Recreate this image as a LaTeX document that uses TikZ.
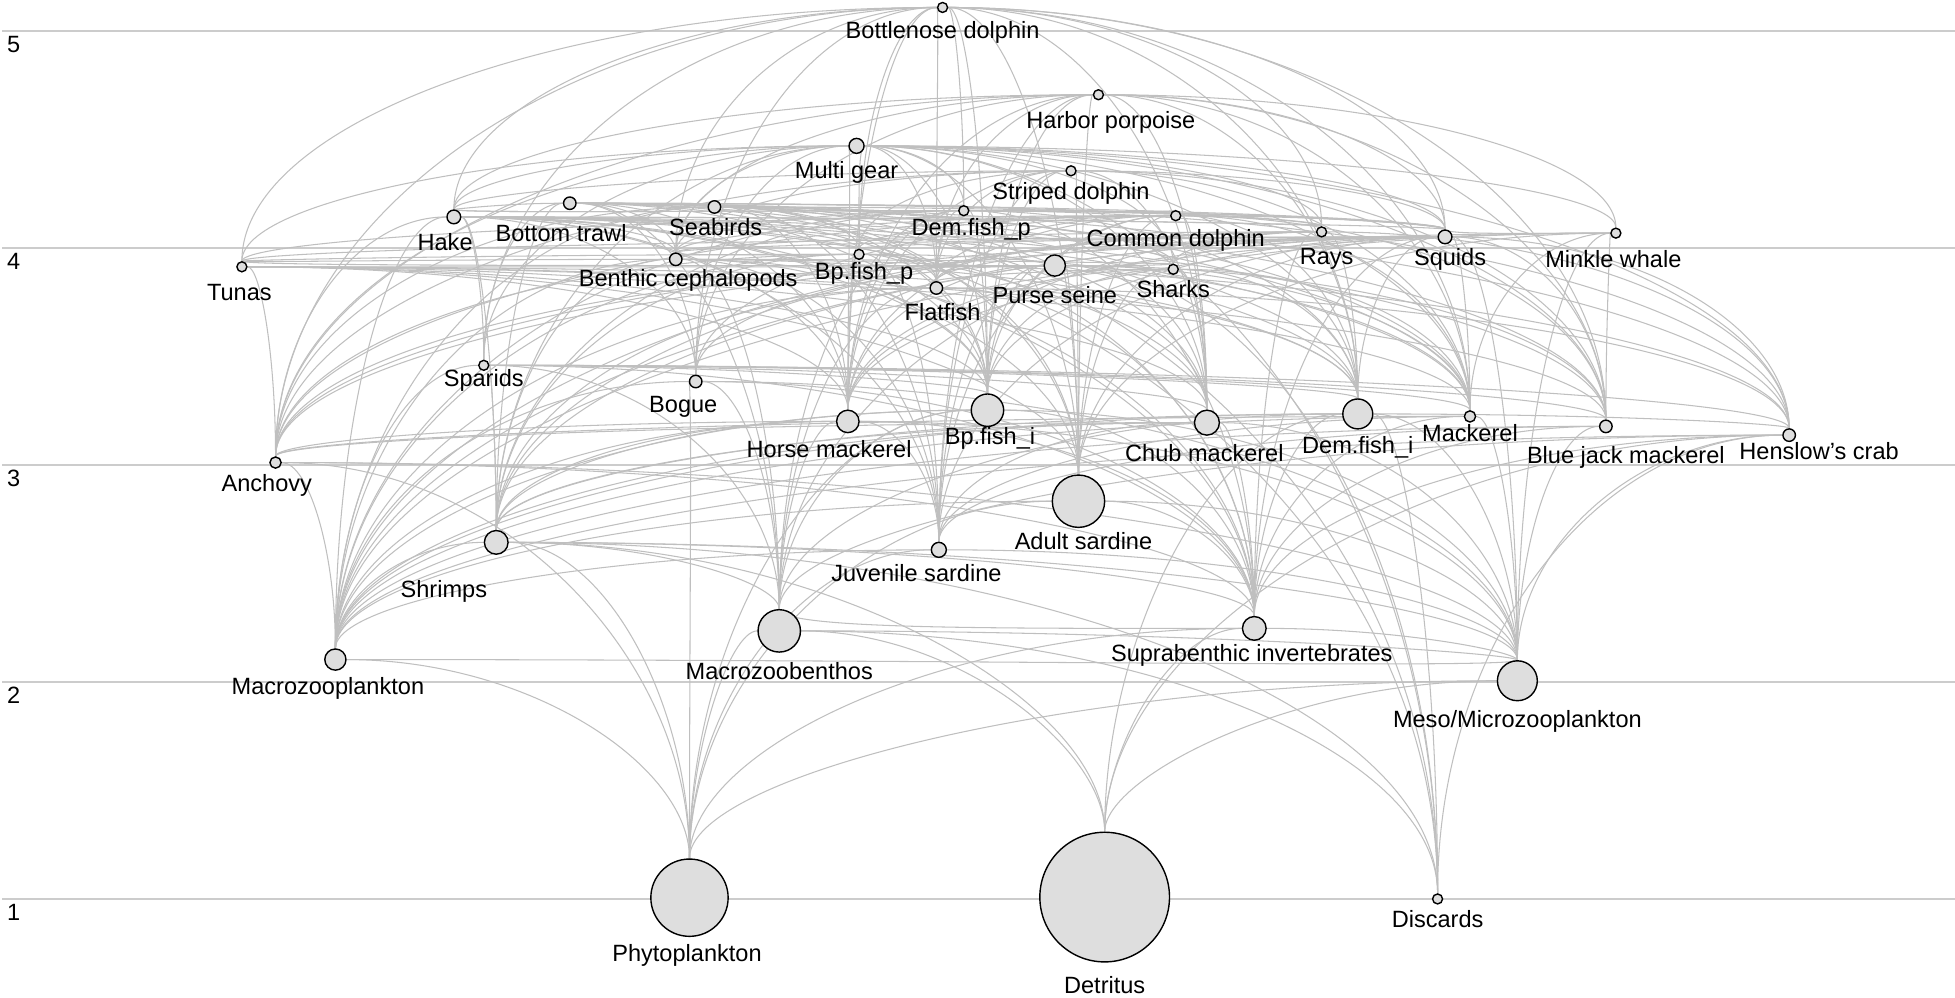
\documentclass[tikz,border=0pt]{standalone}
\usepackage{fontspec}
\setmainfont{Liberation Sans}
\usetikzlibrary{calc}
\pgfdeclarelayer{bg}
\pgfsetlayers{bg,main}
\tikzset{
  grp/.style={circle, draw=black, line width=0.4pt, fill=black!13, inner sep=0pt, minimum size={2*#1*0.012468cm}},
  lab/.style={inner sep=0pt, font=\fontsize{6.7}{8}\selectfont},
  web/.style={draw=black!25, line width=0.3pt},
  level/.style={draw=black!20, line width=0.45pt}
}
\newdimen\lowy
\newdimen\highy
\newcommand{\foodarc}[2]{%
  \draw[web] (#1) .. controls ($(#1)!0.552!(#1|-#2)$) and ($(#2)!0.552!(#1|-#2)$) .. (#2);}
\newcommand{\foodlink}[2]{%
  \pgfextracty{\lowy}{\pgfpointanchor{#1}{center}}%
  \pgfextracty{\highy}{\pgfpointanchor{#2}{center}}%
  \ifdim\lowy<\highy\relax\foodarc{#1}{#2}\else\foodarc{#2}{#1}\fi}

\begin{document}
\begin{tikzpicture}[x=0.012468cm, y=-0.012468cm]
        \useasboundingbox (0,0) rectangle (1568,800);
        \node (bnd) [grp=4] at (756,6) {};
        \node (hpp) [grp=4] at (881,76) {};
        \node (mgr) [grp=6] at (687,117) {};
        \node (std) [grp=4] at (859,137) {};
        \node (sbd) [grp=5] at (573,166) {};
        \node (dfp) [grp=4] at (773,169) {};
        \node (cmd) [grp=4] at (943,173) {};
        \node (btw) [grp=5] at (457,163) {};
        \node (hak) [grp=5.5] at (364,174) {};
        \node (ray) [grp=4] at (1060,186) {};
        \node (sqd) [grp=5.5] at (1159,190) {};
        \node (mkw) [grp=4] at (1296,187) {};
        \node (bcp) [grp=5] at (542,208) {};
        \node (bfp) [grp=4] at (689,204) {};
        \node (tun) [grp=4] at (194,214) {};
        \node (psn) [grp=8.5] at (846,213) {};
        \node (shk) [grp=4] at (941,216) {};
        \node (flf) [grp=5] at (751,231) {};
        \node (spa) [grp=4] at (388,293) {};
        \node (bog) [grp=5] at (558,306) {};
        \node (hmk) [grp=9] at (680,338) {};
        \node (bfi) [grp=13] at (792,329) {};
        \node (cmk) [grp=10] at (968,339) {};
        \node (dfi) [grp=12] at (1089,332) {};
        \node (mck) [grp=4.5] at (1179,334) {};
        \node (bjm) [grp=5] at (1288,342) {};
        \node (hcr) [grp=5] at (1435,349) {};
        \node (anc) [grp=4.5] at (221,371) {};
        \node (asd) [grp=21] at (865,402) {};
        \node (shr) [grp=9.5] at (398,435) {};
        \node (jsd) [grp=6] at (753,441) {};
        \node (mzb) [grp=17] at (625,506) {};
        \node (sbi) [grp=9.5] at (1006,504) {};
        \node (mzp) [grp=8.5] at (269,529) {};
        \node (mmz) [grp=16] at (1217,546) {};
        \node (phy) [grp=31] at (553,720) {};
        \node (det) [grp=52] at (886,719.5) {};
        \node (dis) [grp=4] at (1153,721) {};

        \node (bnd-t) [lab] at (756,26) {Bottlenose dolphin};
        \node (hpp-t) [lab] at (891,98) {Harbor porpoise};
        \node (mgr-t) [lab] at (679,138) {Multi gear};
        \node (std-t) [lab] at (859,155) {Striped dolphin};
        \node (sbd-t) [lab] at (574,182) {Seabirds};
        \node (dfp-t) [lab] at (779,184) {Dem.fish\_p};
        \node (cmd-t) [lab] at (943,193) {Common dolphin};
        \node (btw-t) [lab] at (450,187) {Bottom trawl};
        \node (hak-t) [lab] at (357,194) {Hake};
        \node (ray-t) [lab] at (1064,208) {Rays};
        \node (sqd-t) [lab] at (1163,208) {Squids};
        \node (mkw-t) [lab] at (1294,208) {Minkle whale};
        \node (bcp-t) [lab] at (552,225) {Benthic cephalopods};
        \node (bfp-t) [lab] at (693,219) {Bp.fish\_p};
        \node (tun-t) [lab] at (192,235) {Tunas};
        \node (psn-t) [lab] at (846,237) {Purse seine};
        \node (shk-t) [lab] at (941,232) {Sharks};
        \node (flf-t) [lab] at (756,250) {Flatfish};
        \node (spa-t) [lab] at (388,305) {Sparids};
        \node (bog-t) [lab] at (548,326) {Bogue};
        \node (hmk-t) [lab] at (665,360) {Horse mackerel};
        \node (bfi-t) [lab] at (794,352) {Bp.fish\_i};
        \node (cmk-t) [lab] at (966,363) {Chub mackerel};
        \node (dfi-t) [lab] at (1089,359) {Dem.fish\_i};
        \node (mck-t) [lab] at (1179,347) {Mackerel};
        \node (bjm-t) [lab] at (1304,367) {Blue jack mackerel};
        \node (hcr-t) [lab] at (1459,362) {Henslow's crab};
        \node (anc-t) [lab] at (214,389) {Anchovy};
        \node (asd-t) [lab] at (869,434) {Adult sardine};
        \node (shr-t) [lab] at (356,474) {Shrimps};
        \node (jsd-t) [lab] at (735,460) {Juvenile sardine};
        \node (mzb-t) [lab] at (625,538) {Macrozoobenthos};
        \node (sbi-t) [lab] at (1004,526) {Suprabenthic invertebrates};
        \node (mzp-t) [lab] at (263,552) {Macrozooplankton};
        \node (mmz-t) [lab] at (1217,579) {Meso/Microzooplankton};
        \node (phy-t) [lab] at (551,766) {Phytoplankton};
        \node (det-t) [lab] at (886,790) {Detritus};
        \node (dis-t) [lab] at (1153,737) {Discards};

        \node (tl5) [lab] at (11,36) {5};
        \node (tl4) [lab] at (11,210) {4};
        \node (tl3) [lab] at (11,384) {3};
        \node (tl2) [lab] at (11,558) {2};
        \node (tl1) [lab] at (11,732) {1};

        \begin{pgfonlayer}{bg}
                \draw[level] (2,25) -- (1568,25);
                \draw[level] (2,199) -- (1568,199);
                \draw[level] (2,373) -- (1568,373);
                \draw[level] (2,547) -- (1568,547);
                \draw[level] (2,721) -- (1568,721);

                \foodlink{hak}{bnd} \foodlink{bcp}{bnd} \foodlink{sqd}{bnd} \foodlink{hmk}{bnd} \foodlink{bfi}{bnd} \foodlink{cmk}{bnd}
                \foodlink{mck}{bnd} \foodlink{bjm}{bnd} \foodlink{asd}{bnd} \foodlink{dfi}{bnd} \foodlink{flf}{bnd} \foodlink{spa}{bnd}
                \foodlink{bog}{bnd} \foodlink{dfp}{bnd} \foodlink{bfp}{bnd} \foodlink{ray}{bnd} \foodlink{anc}{bnd} \foodlink{tun}{bnd}

                \foodlink{hak}{hpp} \foodlink{sqd}{hpp} \foodlink{hmk}{hpp} \foodlink{bfi}{hpp} \foodlink{cmk}{hpp} \foodlink{mck}{hpp}
                \foodlink{asd}{hpp} \foodlink{dfi}{hpp} \foodlink{flf}{hpp} \foodlink{bog}{hpp} \foodlink{anc}{hpp} \foodlink{bcp}{hpp}
                \foodlink{jsd}{hpp} \foodlink{bjm}{hpp} \foodlink{mkw}{hpp}

                \foodlink{hak}{mgr} \foodlink{tun}{mgr} \foodlink{bcp}{mgr} \foodlink{sqd}{mgr} \foodlink{spa}{mgr} \foodlink{bog}{mgr}
                \foodlink{hmk}{mgr} \foodlink{bfi}{mgr} \foodlink{cmk}{mgr} \foodlink{mck}{mgr} \foodlink{bjm}{mgr} \foodlink{dfi}{mgr}
                \foodlink{flf}{mgr} \foodlink{ray}{mgr} \foodlink{shk}{mgr} \foodlink{dfp}{mgr} \foodlink{bfp}{mgr} \foodlink{hcr}{mgr}
                \foodlink{anc}{mgr} \foodlink{asd}{mgr} \foodlink{shr}{mgr} \foodlink{mkw}{mgr}

                \foodlink{sqd}{std} \foodlink{bfi}{std} \foodlink{hmk}{std} \foodlink{mck}{std} \foodlink{bjm}{std} \foodlink{asd}{std}
                \foodlink{anc}{std} \foodlink{jsd}{std} \foodlink{cmk}{std} \foodlink{hak}{std} \foodlink{bcp}{std} \foodlink{bfp}{std}
                \foodlink{flf}{std}

                \foodlink{asd}{cmd} \foodlink{anc}{cmd} \foodlink{hmk}{cmd} \foodlink{bfi}{cmd} \foodlink{sqd}{cmd} \foodlink{cmk}{cmd}
                \foodlink{mck}{cmd} \foodlink{bjm}{cmd} \foodlink{jsd}{cmd} \foodlink{bog}{cmd} \foodlink{dfi}{cmd} \foodlink{bfp}{cmd}
                \foodlink{dfp}{cmd} \foodlink{bcp}{cmd} \foodlink{flf}{cmd} \foodlink{tun}{cmd}

                \foodlink{asd}{sbd} \foodlink{anc}{sbd} \foodlink{jsd}{sbd} \foodlink{hmk}{sbd} \foodlink{bfi}{sbd} \foodlink{sqd}{sbd}
                \foodlink{mck}{sbd} \foodlink{cmk}{sbd} \foodlink{mzp}{sbd} \foodlink{bfp}{sbd}

                \foodlink{hak}{dfp} \foodlink{dfi}{dfp} \foodlink{bcp}{dfp} \foodlink{shr}{dfp} \foodlink{mzb}{dfp} \foodlink{sbi}{dfp}
                \foodlink{flf}{dfp} \foodlink{sqd}{dfp} \foodlink{hmk}{dfp} \foodlink{bfi}{dfp} \foodlink{hcr}{dfp} \foodlink{mzp}{dfp}
                \foodlink{ray}{dfp}

                \foodlink{hak}{btw} \foodlink{bcp}{btw} \foodlink{sqd}{btw} \foodlink{ray}{btw} \foodlink{flf}{btw} \foodlink{dfp}{btw}
                \foodlink{dfi}{btw} \foodlink{hmk}{btw} \foodlink{spa}{btw} \foodlink{bog}{btw} \foodlink{shr}{btw} \foodlink{mck}{btw}
                \foodlink{bjm}{btw} \foodlink{hcr}{btw} \foodlink{mzb}{btw} \foodlink{shk}{btw} \foodlink{bfi}{btw} \foodlink{cmk}{btw}

                \foodlink{hmk}{hak} \foodlink{bfi}{hak} \foodlink{bcp}{hak} \foodlink{sqd}{hak} \foodlink{asd}{hak} \foodlink{jsd}{hak}
                \foodlink{anc}{hak} \foodlink{shr}{hak} \foodlink{mzp}{hak} \foodlink{sbi}{hak} \foodlink{bog}{hak} \foodlink{dfi}{hak}
                \foodlink{cmk}{hak} \foodlink{mck}{hak} \foodlink{bjm}{hak} \foodlink{flf}{hak} \foodlink{spa}{hak} \foodlink{ray}{hak}
                \foodlink{dfp}{hak} \foodlink{bfp}{hak}

                \foodlink{shr}{ray} \foodlink{mzb}{ray} \foodlink{sbi}{ray} \foodlink{dfi}{ray} \foodlink{flf}{ray} \foodlink{bcp}{ray}
                \foodlink{hcr}{ray} \foodlink{mzp}{ray}

                \foodlink{asd}{sqd} \foodlink{anc}{sqd} \foodlink{jsd}{sqd} \foodlink{shr}{sqd} \foodlink{mzp}{sqd} \foodlink{sbi}{sqd}
                \foodlink{bfi}{sqd} \foodlink{hmk}{sqd} \foodlink{mck}{sqd} \foodlink{bjm}{sqd} \foodlink{dfi}{sqd} \foodlink{hcr}{sqd}
                \foodlink{mmz}{sqd} \foodlink{bcp}{sqd} \foodlink{bfp}{sqd} \foodlink{flf}{sqd} \foodlink{dfp}{sqd}

                \foodlink{mck}{mkw} \foodlink{asd}{mkw} \foodlink{anc}{mkw} \foodlink{mzp}{mkw} \foodlink{bjm}{mkw} \foodlink{hmk}{mkw}
                \foodlink{sqd}{mkw} \foodlink{mmz}{mkw}

                \foodlink{anc}{tun} \foodlink{asd}{tun} \foodlink{hmk}{tun} \foodlink{mck}{tun} \foodlink{bjm}{tun} \foodlink{cmk}{tun}
                \foodlink{sqd}{tun} \foodlink{bfi}{tun} \foodlink{bcp}{tun} \foodlink{bfp}{tun} \foodlink{shk}{tun} \foodlink{flf}{tun}

                \foodlink{asd}{psn} \foodlink{jsd}{psn} \foodlink{anc}{psn} \foodlink{hmk}{psn} \foodlink{cmk}{psn} \foodlink{mck}{psn}
                \foodlink{bjm}{psn} \foodlink{bog}{psn} \foodlink{tun}{psn} \foodlink{bfi}{psn}

                \foodlink{hak}{shk} \foodlink{sqd}{shk} \foodlink{bcp}{shk} \foodlink{hmk}{shk} \foodlink{bfi}{shk} \foodlink{dfi}{shk}
                \foodlink{mck}{shk} \foodlink{cmk}{shk} \foodlink{asd}{shk} \foodlink{ray}{shk} \foodlink{flf}{shk}

                \foodlink{shr}{flf} \foodlink{mzb}{flf} \foodlink{sbi}{flf} \foodlink{dfi}{flf} \foodlink{hcr}{flf} \foodlink{mzp}{flf}

                \foodlink{shr}{bcp} \foodlink{mzb}{bcp} \foodlink{sbi}{bcp} \foodlink{hcr}{bcp} \foodlink{dfi}{bcp} \foodlink{bfi}{bcp}
                \foodlink{mzp}{bcp} \foodlink{jsd}{bcp} \foodlink{bfp}{bcp}

                \foodlink{bfi}{bfp} \foodlink{hmk}{bfp} \foodlink{asd}{bfp} \foodlink{anc}{bfp} \foodlink{jsd}{bfp} \foodlink{mzp}{bfp}
                \foodlink{shr}{bfp} \foodlink{sbi}{bfp} \foodlink{mck}{bfp}

                \foodlink{mzb}{spa} \foodlink{sbi}{spa} \foodlink{shr}{spa} \foodlink{mzp}{spa} \foodlink{hcr}{spa} \foodlink{bfi}{spa}
                \foodlink{dfi}{spa} \foodlink{cmk}{spa} \foodlink{mck}{spa} \foodlink{bjm}{spa}

                \foodlink{mmz}{bog} \foodlink{mzp}{bog} \foodlink{sbi}{bog} \foodlink{phy}{bog} \foodlink{mzb}{bog}
                \foodlink{mzp}{hmk} \foodlink{mmz}{hmk} \foodlink{sbi}{hmk} \foodlink{shr}{hmk} \foodlink{jsd}{hmk} \foodlink{anc}{hmk}
                \foodlink{mzb}{hmk}
                \foodlink{mzp}{bfi} \foodlink{mmz}{bfi} \foodlink{sbi}{bfi} \foodlink{shr}{bfi} \foodlink{mzb}{bfi} \foodlink{phy}{bfi}
                \foodlink{mzp}{cmk} \foodlink{mmz}{cmk} \foodlink{sbi}{cmk} \foodlink{anc}{cmk} \foodlink{jsd}{cmk} \foodlink{shr}{cmk}
                \foodlink{mzb}{dfi} \foodlink{sbi}{dfi} \foodlink{shr}{dfi} \foodlink{mzp}{dfi} \foodlink{hcr}{dfi} \foodlink{mmz}{dfi}
                \foodlink{mzp}{mck} \foodlink{mmz}{mck} \foodlink{sbi}{mck} \foodlink{jsd}{mck} \foodlink{anc}{mck}
                \foodlink{mzp}{bjm} \foodlink{mmz}{bjm} \foodlink{sbi}{bjm} \foodlink{jsd}{bjm}
                \foodlink{mzp}{hcr} \foodlink{mmz}{hcr} \foodlink{mzb}{hcr} \foodlink{sbi}{hcr}
                \foodlink{mzp}{anc} \foodlink{mmz}{anc} \foodlink{phy}{anc} \foodlink{sbi}{anc}
                \foodlink{mmz}{asd} \foodlink{phy}{asd} \foodlink{mzp}{asd} \foodlink{sbi}{asd}
                \foodlink{mzb}{shr} \foodlink{sbi}{shr} \foodlink{mzp}{shr} \foodlink{mmz}{shr} \foodlink{phy}{shr}
                \foodlink{mmz}{jsd} \foodlink{phy}{jsd} \foodlink{mzp}{jsd}
                \foodlink{phy}{mzb} \foodlink{mmz}{mzb} \foodlink{sbi}{mzb}
                \foodlink{phy}{sbi} \foodlink{mmz}{sbi}
                \foodlink{mmz}{mzp} \foodlink{phy}{mzp}
                \foodlink{phy}{mmz}

                \foodlink{det}{shr} \foodlink{det}{mzb} \foodlink{det}{sbi} \foodlink{det}{mmz} \foodlink{det}{dfi} \foodlink{det}{hcr}
                \foodlink{dis}{sbd} \foodlink{dis}{shr} \foodlink{dis}{dfi} \foodlink{dis}{hcr} \foodlink{dis}{mzb} \foodlink{dis}{mgr}
                \foodlink{dis}{btw} \foodlink{dis}{psn}
        \end{pgfonlayer}
\end{tikzpicture}
\end{document}
